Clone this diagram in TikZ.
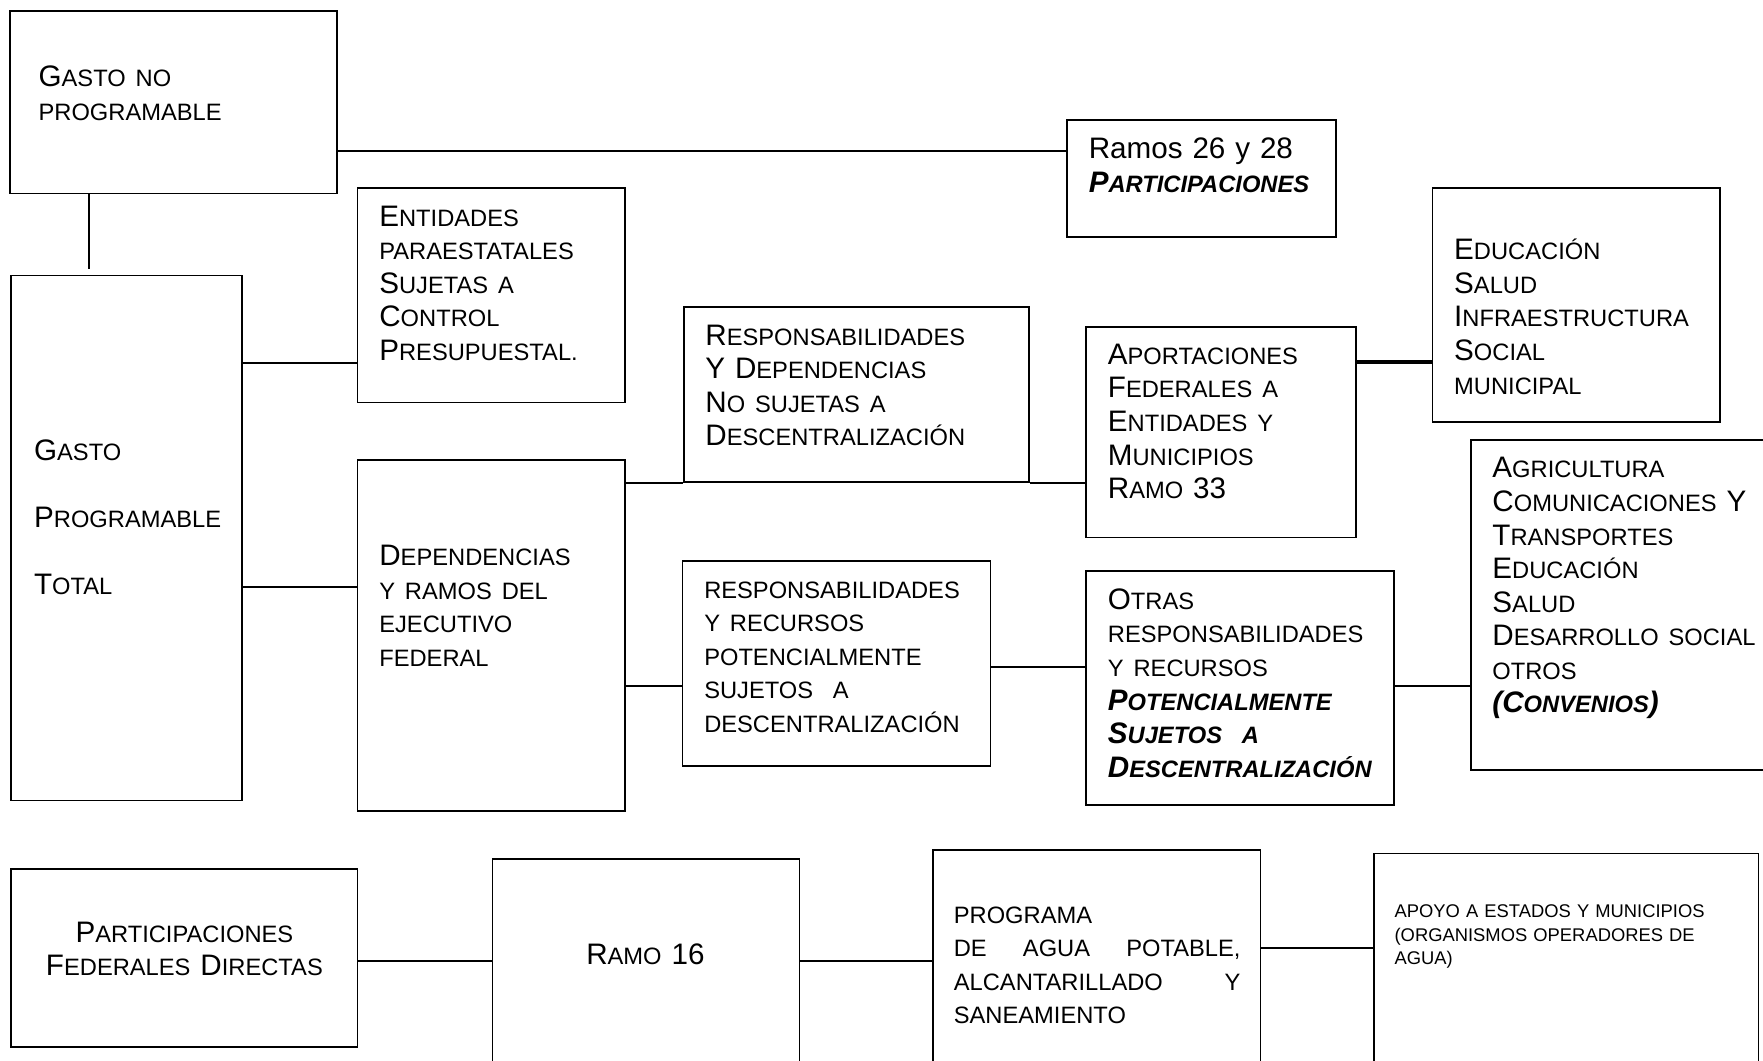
\documentclass[tikz,border=0pt]{standalone}
\usepackage{fontspec}
\setmainfont{Liberation Sans}
\usetikzlibrary{fit}

\newcommand{\smc}[1]{{\fontsize{12}{17}\selectfont #1}}

\tikzset{
  box/.style={draw, line width=0.9pt, inner sep=0pt},
  txt/.style={anchor=base west, inner sep=0pt, text width=6cm, align=left, font=\fontsize{15}{17}\selectfont},
  link/.style={line width=0.9pt}
}

\begin{document}
\begin{tikzpicture}[x=0.02cm, y=-0.02cm]
  \useasboundingbox (0,0) rectangle (1568,943);
  \clip (0,0) rectangle (1568,943);

  % Gasto no programable
  \node[box, fit={(9,10) (300,172)}] (gnp) {};
  \node[txt] (gnp-t) at (34,77) {G\smc{ASTO NO}\\\smc{PROGRAMABLE}};

  % Ramos 26 y 28
  \node[box, fit={(949,107) (1188,211)}] (ramos) {};
  \node[txt] (ramos-t) at (968,141) {Ramos 26 y 28\\\textbf{\textit{P\smc{ARTICIPACIONES}}}};

  % Gasto programable total
  \node[box, fit={(10,245) (215,712)}] (gpt) {};
  \node[txt, font=\fontsize{15}{33.9}\selectfont] (gpt-t) at (30,410) {G\smc{ASTO}\\P\smc{ROGRAMABLE}\\T\smc{OTAL}};

  % Entidades paraestatales
  \node[box, fit={(318,167) (556,358)}] (ent) {};
  \node[txt] (ent-t) at (337,201) {E\smc{NTIDADES}\\\smc{PARAESTATALES}\\S\smc{UJETAS A}\\C\smc{ONTROL}\\P\smc{RESUPUESTAL.}};

  % Dependencias y ramos
  \node[box, fit={(318,409) (556,721)}] (dep) {};
  \node[txt] (dep-t) at (337,503) {D\smc{EPENDENCIAS}\\\smc{Y RAMOS DEL}\\\smc{EJECUTIVO}\\\smc{FEDERAL}};

  % No sujetas a descentralizacion
  \node[box, fit={(608,273) (915,429)}] (rnd) {};
  \node[txt] (rnd-t) at (627,307) {R\smc{ESPONSABILIDADES}\\Y D\smc{EPENDENCIAS}\\N\smc{O SUJETAS A}\\D\smc{ESCENTRALIZACIÓN}};

  % Potencialmente sujetos
  \node[box, fit={(607,499) (881,681)}] (rrp) {};
  \node[txt] (rrp-t) at (626,532) {\smc{RESPONSABILIDADES}\\\smc{Y RECURSOS}\\\smc{POTENCIALMENTE}\\\smc{SUJETOS\ \ A}\\\smc{DESCENTRALIZACIÓN}};

  % Aportaciones federales
  \node[box, fit={(966,291) (1206,478)}] (apo) {};
  \node[txt] (apo-t) at (985,324) {A\smc{PORTACIONES}\\F\smc{EDERALES A}\\E\smc{NTIDADES Y}\\M\smc{UNICIPIOS}\\R\smc{AMO} 33};

  % Educacion salud
  \node[box, fit={(1274,167) (1530,375)}] (edu) {};
  \node[txt] (edu-t) at (1293,231) {E\smc{DUCACIÓN}\\S\smc{ALUD}\\I\smc{NFRAESTRUCTURA}\\S\smc{OCIAL}\\\smc{MUNICIPAL}};

  % Otras responsabilidades
  \node[box, fit={(966,508) (1240,716)}] (otr) {};
  \node[txt] (otr-t) at (985,542) {O\smc{TRAS}\\\smc{RESPONSABILIDADES}\\\smc{Y RECURSOS}\\\textbf{\textit{P\smc{OTENCIALMENTE}}}\\\textbf{\textit{S\smc{UJETOS\ \ A}}}\\\textbf{\textit{D\smc{ESCENTRALIZACIÓN}}}};

  % Convenios
  \node[box, fit={(1308,391) (1600,685)}] (agr) {};
  \node[txt] (agr-t) at (1327,425) {A\smc{GRICULTURA}\\C\smc{OMUNICACIONES} Y\\T\smc{RANSPORTES}\\E\smc{DUCACIÓN}\\S\smc{ALUD}\\D\smc{ESARROLLO SOCIAL}\\\smc{OTROS}\\\textbf{\textit{(C\smc{ONVENIOS})}}};

  % Bottom row
  \node[box, fit={(10,773) (318,931)}] (pfd) {};
  \node[txt, anchor=base, text width=5.5cm, align=center] (pfd-t) at (164,838) {P\smc{ARTICIPACIONES}\\F\smc{EDERALES} D\smc{IRECTAS}};

  \node[box, fit={(438,764) (711,980)}] (r16) {};
  \node[txt, anchor=base, text width=5cm, align=center] (r16-t) at (574,858) {R\smc{AMO} 16};

  \node[box, fit={(830,756) (1121,980)}] (prog) {};
  \node[txt, text width=5.1cm] (prog-t) at (848,821) {\smc{PROGRAMA}\\\smc{DE\hfill AGUA\hfill POTABLE,}\\\smc{ALCANTARILLADO\hfill Y}\\\smc{SANEAMIENTO}};

  \node[box, fit={(1222,759) (1564,980)}] (apy) {};
  \node[txt, font=\fontsize{9.3}{12}\selectfont] (apy-t) at (1240,816) {APOYO A ESTADOS Y MUNICIPIOS\\(ORGANISMOS OPERADORES DE\\AGUA)};

  % Connectors
  \draw[link] (gnp.east |- 0,134) -- (ramos.west |- 0,134);
  \draw[link, shorten >=0.1cm] (gnp.south -| 79,0) -- (gpt.north -| 79,0);
  \draw[link] (gpt.east |- 0,323) -- (ent.west |- 0,323);
  \draw[link] (gpt.east |- 0,522) -- (dep.west |- 0,522);
  \draw[link] (dep.east |- rnd.south) -- (rnd.south west);
  \draw[link] (rnd.south east) -- (apo.west |- rnd.south);
  \draw[line width=1.8pt] (apo.east |- 0,322) -- (edu.west |- 0,322);
  \draw[link] (dep.east |- 0,610) -- (rrp.west |- 0,610);
  \draw[link] (rrp.east |- 0,593) -- (otr.west |- 0,593);
  \draw[link] (otr.east |- 0,610) -- (agr.west |- 0,610);
  \draw[link] (pfd.east |- 0,855) -- (r16.west |- 0,855);
  \draw[link] (r16.east |- 0,855) -- (prog.west |- 0,855);
  \draw[link] (prog.east |- 0,843) -- (apy.west |- 0,843);
\end{tikzpicture}
\end{document}
